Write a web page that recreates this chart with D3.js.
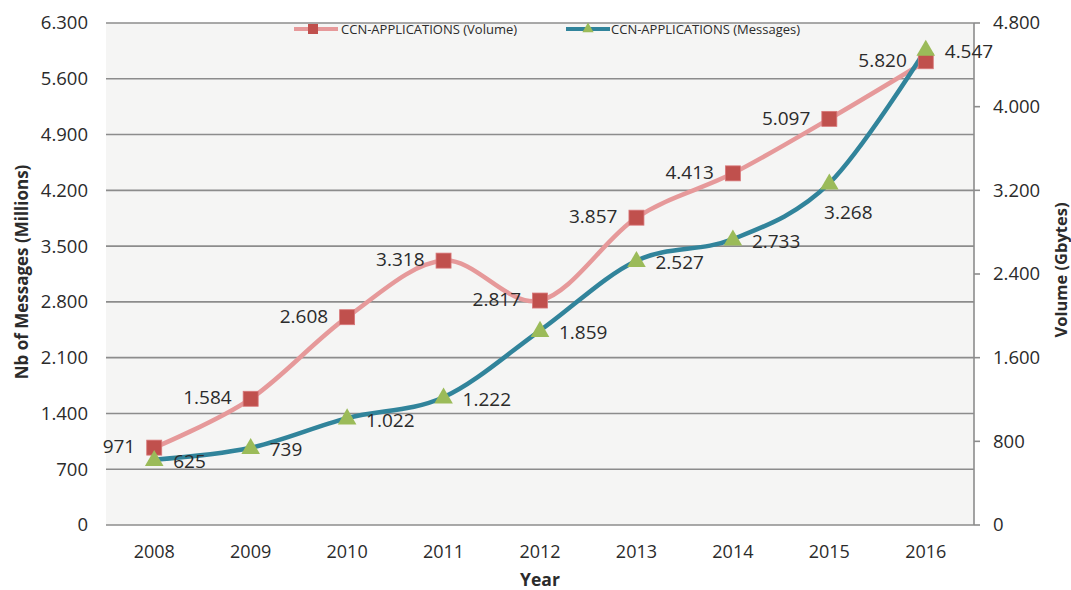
<!DOCTYPE html>
<html>
<head>
<meta charset="utf-8">
<script src="https://cdn.jsdelivr.net/npm/d3@7"></script>
<style>
  body { margin: 0; background: #fff; }
  text { font-family: "Open Sans", "Noto Sans", sans-serif; fill: #2b2b2b; }
</style>
</head>
<body>
<svg id="chart"></svg>
<script>
const years = ["2008", "2009", "2010", "2011", "2012", "2013", "2014", "2015", "2016"];
const volume = [971, 1584, 2608, 3318, 2817, 3857, 4413, 5097, 5820];
const messages = [625, 739, 1022, 1222, 1859, 2527, 2733, 3268, 4547];
const leftTicks = [0, 700, 1400, 2100, 2800, 3500, 4200, 4900, 5600, 6300];
const rightTicks = [0, 800, 1600, 2400, 3200, 4000, 4800];
const seriesNames = ["CCN-APPLICATIONS (Volume)", "CCN-APPLICATIONS (Messages)"];

const width = 1071, height = 590;
const margin = {top: 23, right: 97, bottom: 65, left: 106};
const w = width - margin.left - margin.right;
const h = height - margin.top - margin.bottom;

// european style thousands separator
const fmt = v => d3.format(",")(v).replace(/,/g, ".");

const svg = d3.select("#chart").attr("width", width).attr("height", height);
const g = svg.append("g").attr("transform", `translate(${margin.left},${margin.top})`);

const x = d3.scaleBand().domain(years).range([0, w]);
const cx = d => x(d) + x.bandwidth() / 2;
const yL = d3.scaleLinear().domain([0, 6300]).range([h, 0]);
const yR = d3.scaleLinear().domain([0, 4800]).range([h, 0]);

g.append("rect").attr("width", w).attr("height", h).attr("fill", "#f5f5f4");

// grid + left labels
g.selectAll(".grid").data(leftTicks).enter().append("line")
  .attr("x1", 0).attr("x2", w)
  .attr("y1", d => yL(d)).attr("y2", d => yL(d))
  .attr("stroke", "#8c8c8c").attr("stroke-width", 1.6);

g.selectAll(".ltick").data(leftTicks).enter().append("text")
  .attr("x", -18).attr("y", d => yL(d)).attr("dy", "0.35em")
  .attr("text-anchor", "end").attr("font-size", 18.5)
  .text(fmt);

// right axis
g.append("line").attr("x1", w).attr("x2", w).attr("y1", 0).attr("y2", h)
  .attr("stroke", "#8c8c8c").attr("stroke-width", 1.6);
g.selectAll(".rt").data(rightTicks).enter().append("line")
  .attr("x1", w).attr("x2", w + 6)
  .attr("y1", d => yR(d)).attr("y2", d => yR(d))
  .attr("stroke", "#8c8c8c").attr("stroke-width", 1.6);
g.selectAll(".rtick").data(rightTicks).enter().append("text")
  .attr("x", w + 19).attr("y", d => yR(d)).attr("dy", "0.35em")
  .attr("font-size", 18.5)
  .text(fmt);

// x labels
g.selectAll(".xt").data(years).enter().append("text")
  .attr("x", cx).attr("y", h + 27).attr("dy", "0.35em")
  .attr("text-anchor", "middle").attr("font-size", 18)
  .text(d => d);

// axis titles
svg.append("text").attr("transform", "translate(22,272) rotate(-90)")
  .attr("text-anchor", "middle").attr("dy", "0.35em")
  .attr("font-size", 17).attr("font-weight", "bold")
  .text("Nb of Messages (Millions)");
svg.append("text").attr("transform", "translate(1061,270) rotate(-90)")
  .attr("text-anchor", "middle").attr("dy", "0.35em")
  .attr("font-size", 16.5).attr("font-weight", "bold")
  .text("Volume (Gbytes)");
svg.append("text").attr("x", 540).attr("y", 580).attr("dy", "0.35em")
  .attr("text-anchor", "middle").attr("font-size", 17.5).attr("font-weight", "bold")
  .text("Year");

const curve = d3.curveCatmullRom.alpha(0);

// volume line (left scale)
const lineV = d3.line().x((d, i) => cx(years[i])).y(d => yL(d)).curve(curve);
g.append("path").attr("d", lineV(volume))
  .attr("fill", "none").attr("stroke", "#e6999a").attr("stroke-width", 4.5);

// messages line (right scale)
const lineM = d3.line().x((d, i) => cx(years[i])).y(d => yR(d)).curve(curve);
g.append("path").attr("d", lineM(messages))
  .attr("fill", "none").attr("stroke", "#31849b").attr("stroke-width", 4.5);

// square markers
g.selectAll(".sq").data(volume).enter().append("rect")
  .attr("x", (d, i) => cx(years[i]) - 7.5).attr("y", d => yL(d) - 7.5)
  .attr("width", 15).attr("height", 15)
  .attr("fill", "#c0504d").attr("stroke", "#d8787a").attr("stroke-width", 0.8);

// triangle markers
const tri = d3.symbol().type(d3.symbolTriangle).size(150);
g.selectAll(".tri").data(messages).enter().append("path")
  .attr("d", tri)
  .attr("transform", (d, i) => `translate(${cx(years[i])},${yR(d) + 1})`)
  .attr("fill", "#9bbb59");

// data labels
g.selectAll(".vl").data(volume).enter().append("text")
  .attr("x", (d, i) => cx(years[i]) - 19).attr("y", d => yL(d) - 1).attr("dy", "0.35em")
  .attr("text-anchor", "end").attr("font-size", 19)
  .text(fmt);

// 2015 label sits under its marker, the rest to the right
g.selectAll(".ml").data(messages).enter().append("text")
  .attr("x", (d, i) => cx(years[i]) + 19)
  .attr("y", (d, i) => yR(d) + (i === 7 ? 29 : 2))
  .attr("dy", "0.35em")
  .attr("text-anchor", (d, i) => i === 7 ? "middle" : "start")
  .attr("font-size", 19)
  .text(fmt);

// legend
const lg = g.append("g").attr("transform", "translate(0,6)");
lg.append("line").attr("x1", 188).attr("x2", 232).attr("y1", 0).attr("y2", 0)
  .attr("stroke", "#e6999a").attr("stroke-width", 4);
lg.append("rect").attr("x", 202).attr("y", -5).attr("width", 10).attr("height", 10)
  .attr("fill", "#c0504d");
lg.append("text").attr("x", 235).attr("y", 0).attr("dy", "0.35em")
  .attr("font-size", 13).text(seriesNames[0]);
lg.append("line").attr("x1", 460).attr("x2", 504).attr("y1", 0).attr("y2", 0)
  .attr("stroke", "#31849b").attr("stroke-width", 4);
lg.append("path").attr("d", d3.symbol().type(d3.symbolTriangle).size(55))
  .attr("transform", "translate(482,0)").attr("fill", "#9bbb59");
lg.append("text").attr("x", 505).attr("y", 0).attr("dy", "0.35em")
  .attr("font-size", 13).text(seriesNames[1]);
</script>
</body>
</html>
